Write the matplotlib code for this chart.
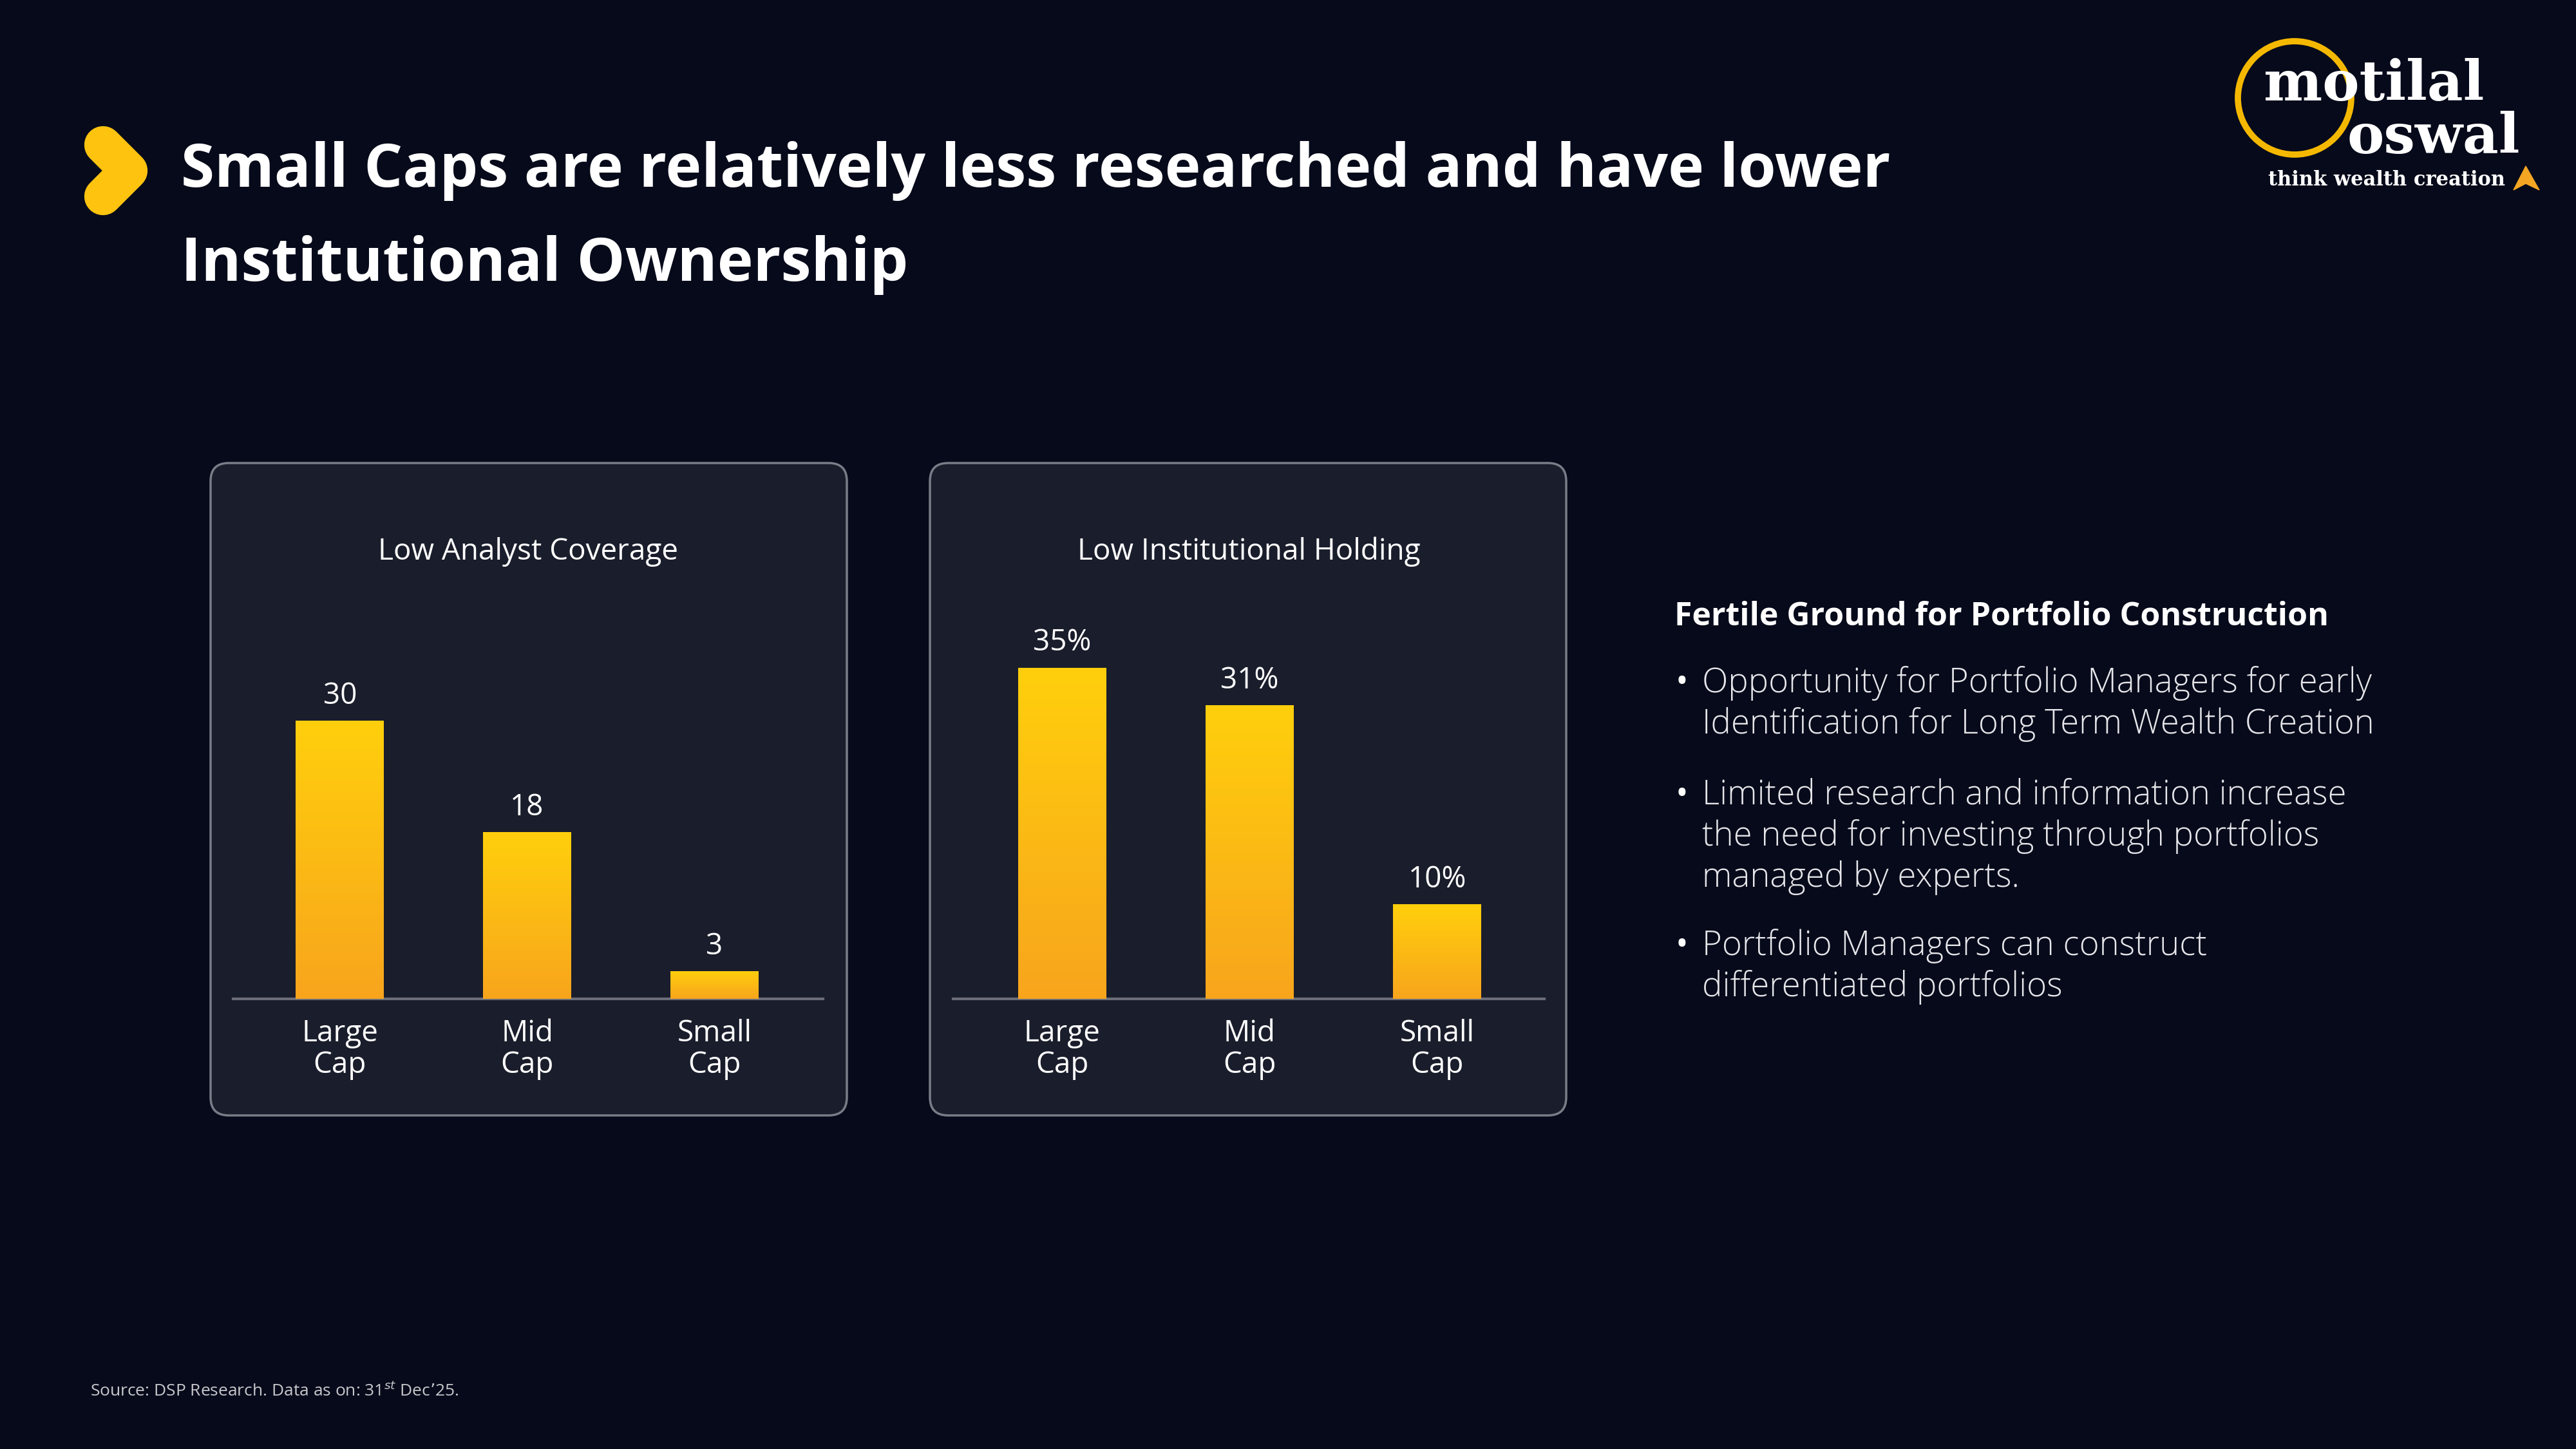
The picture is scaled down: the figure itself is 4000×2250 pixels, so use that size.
import numpy as np
import matplotlib
matplotlib.use('Agg')
from matplotlib import pyplot as plt
from matplotlib.patches import FancyBboxPatch, Circle, Polygon

categories = ['Large\nCap', 'Mid\nCap', 'Small\nCap']
analyst_coverage = [30, 18, 3]
inst_holding = [35, 31, 10]
inst_labels = ['35%', '31%', '10%']
analyst_labels = ['30', '18', '3']

BG = '#060a1a'
PANEL = '#1a1d2b'
W, H = 4000, 2250

plt.rcParams['font.family'] = ['Open Sans', 'DejaVu Sans']
fig = plt.figure(figsize=(40, 22.5), dpi=100, facecolor=BG)

# background layer in pixel coordinates
bg = fig.add_axes([0, 0, 1, 1], zorder=0)
bg.set_xlim(0, W)
bg.set_ylim(H, 0)
bg.axis('off')
bg.set_facecolor(BG)

# title and chevron icon
bg.plot([160, 200, 160], [225, 265, 305], color='#fdc30f', lw=42,
        solid_capstyle='round', solid_joinstyle='round')
bg.text(281, 265, 'Small Caps are relatively less researched and have lower',
        color='white', fontsize=68, fontweight='bold', va='center')
bg.text(281, 411, 'Institutional Ownership',
        color='white', fontsize=68, fontweight='bold', va='center')

# logo
bg.add_patch(Circle((3563, 152), 88, fill=False, ec='#f5b800', lw=7))
bg.text(3515, 132, 'motilal', color='white', fontsize=62, fontweight='bold',
        family='DejaVu Serif', va='center')
bg.text(3645, 214, 'oswal', color='white', fontsize=62, fontweight='bold',
        family='DejaVu Serif', va='center')
bg.text(3522, 279, 'think wealth creation', color='white', fontsize=22,
        fontweight='bold', family='DejaVu Serif', va='center')
bg.add_patch(Polygon([[3903, 295], [3922, 258], [3943, 295], [3922, 285]],
                     closed=True, color='#f5a623'))

# chart panels
for x0 in (327, 1444):
    bg.add_patch(FancyBboxPatch((x0, 719), 988, 1013,
                                boxstyle='round,pad=0,rounding_size=28',
                                fc=PANEL, ec='#7a7d88', lw=2.5))

# right side text
bg.text(2600, 958, 'Fertile Ground for Portfolio Construction', color='white',
        fontsize=36, fontweight='bold', va='center')
bullets = [
    ['Opportunity for Portfolio Managers for early',
     'Identification for Long Term Wealth Creation'],
    ['Limited research and information increase',
     'the need for investing through portfolios',
     'managed by experts.'],
    ['Portfolio Managers can construct',
     'differentiated portfolios'],
]
starts = [1061, 1235, 1469]
for lines, y0 in zip(bullets, starts):
    bg.text(2612, y0, '•', color='white', fontsize=38, va='center', ha='center')
    for k, line in enumerate(lines):
        bg.text(2643, y0 + k * 64, line, color='#e6e6ea', fontsize=38,
                fontweight='light', va='center')

bg.text(140, 2160, 'Source: DSP Research. Data as on: 31$^{st}$ Dec\u201925.',
        color='#c8c8cc', fontsize=19, va='center')


def px_axes(x0, x1, y_top, y_bot):
    return fig.add_axes([x0 / W, 1 - y_bot / H, (x1 - x0) / W, (y_bot - y_top) / H],
                        zorder=2)


def bar_panel(ax, values, labels, title, xlim, ymax, title_y):
    ax.set_facecolor('none')
    ax.set_xlim(*xlim)
    ax.set_ylim(0, ymax)
    bars = ax.bar(range(len(values)), values, width=0.47, color='#fdbf14', zorder=2)
    grad = np.linspace(0, 1, 256).reshape(-1, 1)
    cmap = matplotlib.colors.LinearSegmentedColormap.from_list('g', ['#f8a51d', '#ffcf0c'])
    for b in bars:
        im = ax.imshow(grad, cmap=cmap, origin='lower', aspect='auto', zorder=3,
                       extent=[b.get_x(), b.get_x() + b.get_width(), 0, b.get_height()])
        im.set_clip_path(b)
    for i, (v, t) in enumerate(zip(values, labels)):
        ax.text(i, v + ymax * 0.025, t, ha='center', va='bottom', color='white', fontsize=33)
    for s in ('top', 'right', 'left'):
        ax.spines[s].set_visible(False)
    ax.spines['bottom'].set_color('#6b6e78')
    ax.spines['bottom'].set_linewidth(3)
    ax.set_yticks([])
    ax.set_xticks(range(len(values)))
    ax.set_xticklabels(categories, color='white', fontsize=33, linespacing=1.1)
    ax.tick_params(axis='x', length=0, pad=22)
    ax.set_xlim(*xlim)
    ax.text(0.5, title_y, title, transform=ax.transAxes, ha='center', va='center',
            color='white', fontsize=33)


ax1 = px_axes(362, 1278, 944, 1551)
bar_panel(ax1, analyst_coverage, analyst_labels, 'Low Analyst Coverage',
          (-0.57, 2.58), 42.2, 1 + (944 - 857) / 607)
ax2 = px_axes(1480, 2398, 944, 1551)
bar_panel(ax2, inst_holding, inst_labels, 'Low Institutional Holding',
          (-0.58, 2.57), 41.3, 1 + (944 - 857) / 607)

fig.savefig('out.png', dpi=100, facecolor=BG)
